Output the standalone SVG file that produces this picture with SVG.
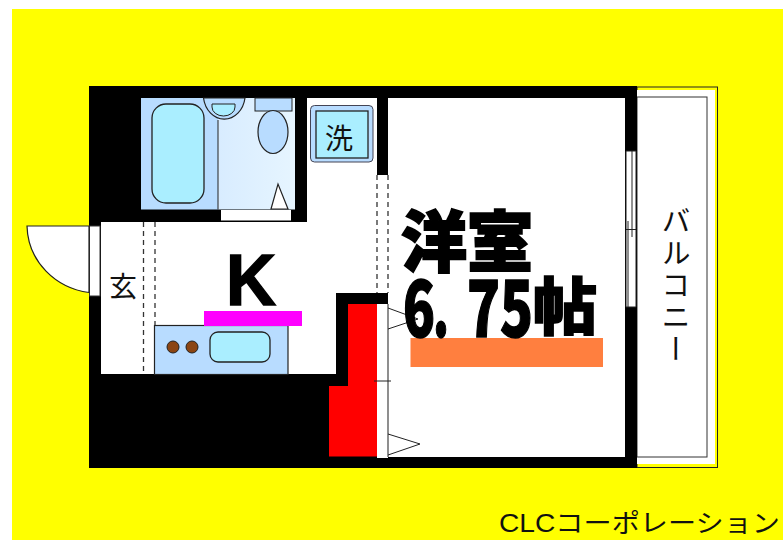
<svg xmlns="http://www.w3.org/2000/svg" width="783" height="540" viewBox="0 0 783 540">
<style>
.l{fill:none;stroke:#222;stroke-width:1}
.d{fill:none;stroke:#333;stroke-width:1.3;stroke-dasharray:5 4}
.j{font-family:"Noto Sans CJK JP","Liberation Sans",sans-serif;fill:#111}
.b{font-weight:900;fill:#000;stroke:#000}
</style>
<defs><linearGradient id="g" x1="0" y1="0" x2="1" y2="0"><stop offset="0" stop-color="#d8ecff"/><stop offset="1" stop-color="#e6f5ff"/></linearGradient></defs>
<rect width="783" height="540" fill="#fff"/>
<rect x="12" y="9" width="771" height="531" fill="#ff0"/>
<g id="balcony">
<rect x="637" y="87" width="80.500" height="380.500" fill="#ff0" stroke="#222"/>
<rect x="637" y="90" width="78" height="374" fill="#fff"/>
<rect x="637" y="97" width="70" height="360" fill="#fff" stroke="#333"/>
<text class="j" x="676" y="206" font-size="29" style="writing-mode:vertical-rl;letter-spacing:3px" text-anchor="start">バルコニー</text>
</g>
<g id="walls">
<rect x="89" y="86" width="548" height="382" fill="#000"/>
</g>
<g id="main-room">
<rect x="388" y="98" width="237" height="359" fill="#fff"/>
</g>
<g id="kitchen">
<path d="M307 98H377V293H336V374H101V222H307Z" fill="#fff"/>
<rect x="377" y="175" width="11" height="118" fill="#fff"/>
<rect x="154.500" y="325.500" width="133.500" height="49" fill="#b8dcff" stroke="#222" stroke-width="1.200"/>
<circle cx="173" cy="347" r="6" fill="#8b4513" stroke="#222"/>
<circle cx="192" cy="347" r="6" fill="#8b4513" stroke="#222"/>
<rect x="210" y="332" width="60" height="30" rx="8" fill="#aaeeff" stroke="#222" stroke-width="1.300"/>
<rect x="204" y="311" width="98" height="15" fill="#f0f"/>
<text x="226" y="305" font-family="Liberation Sans,sans-serif" font-weight="700" font-size="72" fill="#000" stroke="#000" stroke-width="1.500" textLength="50" lengthAdjust="spacingAndGlyphs">K</text>
</g>
<g id="bath">
<rect x="141" y="98" width="77" height="111.500" fill="#b8dcff"/>
<rect x="218" y="98" width="77" height="111.500" fill="url(#g)"/>
<rect x="152" y="104" width="52" height="99" rx="14" fill="#aaeeff" stroke="#222" stroke-width="1.300"/>
<path d="M203.500 98A21 25 0 0 0 245 98Z" fill="#b8dcff" stroke="#222" stroke-width="1.200"/>
<path d="M212 104H235V107A11.500 9 0 0 1 212 107Z" fill="#aaeeff" stroke="#222"/>
<path class="l" d="M218 120V209.500"/>
<rect x="255" y="98" width="37" height="13" fill="#b8dcff" stroke="#222"/>
<ellipse cx="273" cy="132" rx="15" ry="21.500" fill="#b8dcff" stroke="#222" stroke-width="1.200"/>
<path d="M271 209L278 184L288 209Z" fill="#fff" stroke="#222" stroke-width="1.200"/>
<rect x="221" y="210" width="70" height="10.500" fill="#fff"/>
</g>
<g id="washer">
<rect x="310.500" y="105.500" width="62.500" height="56.500" rx="4" fill="#b8dcff" stroke="#445"/>
<rect x="316" y="111" width="52" height="47" fill="#aaeeff" stroke="#222" stroke-width="1.300"/>
<text class="j" x="339" y="149" font-size="28" text-anchor="middle">洗</text>
</g>
<g id="entrance">
<rect x="89.500" y="226" width="10.500" height="70" fill="#fff" stroke="#333"/>
<path d="M27 226H89V292.500C56 288 28 262 27 226Z" fill="#fff" stroke="#222" stroke-width="1.200"/>
<text class="j" x="123" y="297" font-size="28" text-anchor="middle">玄</text>
</g>
<g id="closet">
<path d="M348 304H377V456.500H329V386H348Z" fill="#f00"/>
<rect x="377" y="304" width="11" height="154" fill="#fff"/>
<path d="M388 304V457" stroke="#444" stroke-width="1.200" fill="none"/>
</g>
<g id="connectors">
<path class="d" d="M143.500 222V374M155 222V325M377 175V293M388 175V293"/>
<path class="l" d="M374 381H391M388 308L418 319L388 329M388 434L420 444L388 455"/>
<path d="M626 151H636V307H626Z" fill="#fff" stroke="#222"/>
<path class="l" d="M632 151V237M628 221V307M626 229.500H636"/>
</g>
<g id="labels">
<rect x="410.500" y="338" width="192.500" height="29" fill="#ff7f3f"/>
<text class="j b" x="401" y="266" font-size="66" stroke-width="2">洋室</text>
<text class="j b" y="337" font-size="76" stroke-width="1.500"><tspan x="403" textLength="32" lengthAdjust="spacingAndGlyphs">6</tspan><tspan x="433" textLength="16" lengthAdjust="spacingAndGlyphs">.</tspan> <tspan x="467" textLength="66" lengthAdjust="spacingAndGlyphs">75</tspan><tspan x="533" y="330" font-size="62" textLength="64" lengthAdjust="spacingAndGlyphs">帖</tspan></text>
<text x="499" y="532" font-family="Liberation Sans,Noto Sans CJK JP,sans-serif" font-size="25" fill="#111" textLength="281" lengthAdjust="spacingAndGlyphs">CLCコーポレーション</text>
</g>
</svg>
